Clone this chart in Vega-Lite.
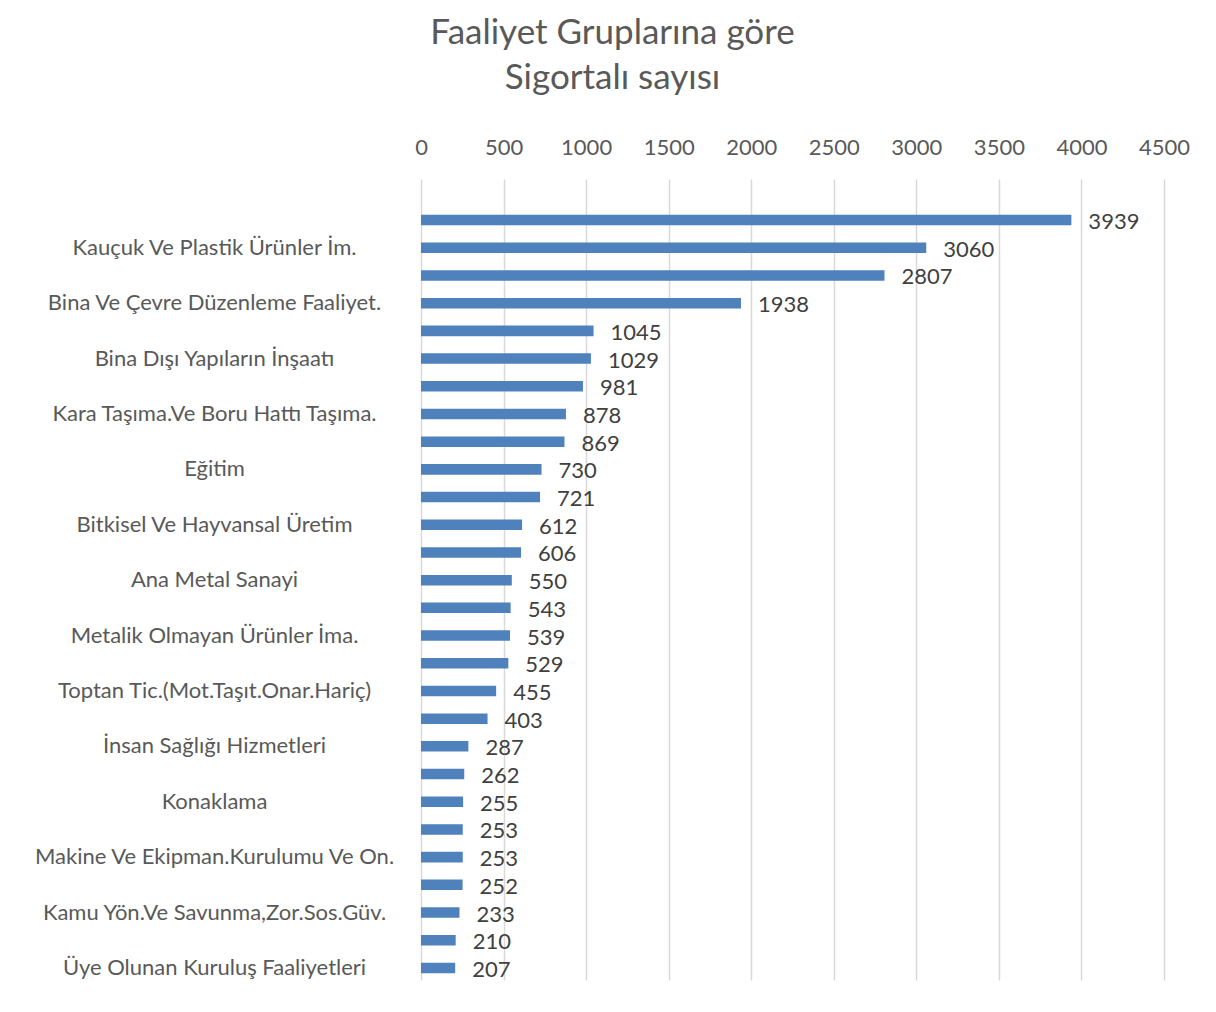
{
  "$schema": "https://vega.github.io/schema/vega-lite/v6.json",
  "autosize": "none",
  "padding": {"left": 421, "top": 179, "right": 52, "bottom": 32},
  "width": 743,
  "height": 801,
  "background": "white",
  "title": {
    "text": ["Faaliyet Gruplarına göre", "Sigortalı sayısı"],
    "font": "Lato",
    "fontSize": 35,
    "fontWeight": "normal",
    "color": "#595959",
    "anchor": "middle",
    "dx": -180,
    "lineHeight": 45,
    "offset": 40
  },
  "data": {
    "values": [
      {"sira": 1, "grup": "(etiketsiz 1)", "sayi": 3939},
      {"sira": 2, "grup": "Kauçuk Ve Plastik Ürünler İm.", "sayi": 3060},
      {"sira": 3, "grup": "(etiketsiz 3)", "sayi": 2807},
      {"sira": 4, "grup": "Bina Ve Çevre Düzenleme Faaliyet.", "sayi": 1938},
      {"sira": 5, "grup": "(etiketsiz 5)", "sayi": 1045},
      {"sira": 6, "grup": "Bina Dışı Yapıların İnşaatı", "sayi": 1029},
      {"sira": 7, "grup": "(etiketsiz 7)", "sayi": 981},
      {"sira": 8, "grup": "Kara Taşıma.Ve Boru Hattı Taşıma.", "sayi": 878},
      {"sira": 9, "grup": "(etiketsiz 9)", "sayi": 869},
      {"sira": 10, "grup": "Eğitim", "sayi": 730},
      {"sira": 11, "grup": "(etiketsiz 11)", "sayi": 721},
      {"sira": 12, "grup": "Bitkisel Ve Hayvansal Üretim", "sayi": 612},
      {"sira": 13, "grup": "(etiketsiz 13)", "sayi": 606},
      {"sira": 14, "grup": "Ana Metal Sanayi", "sayi": 550},
      {"sira": 15, "grup": "(etiketsiz 15)", "sayi": 543},
      {"sira": 16, "grup": "Metalik Olmayan Ürünler İma.", "sayi": 539},
      {"sira": 17, "grup": "(etiketsiz 17)", "sayi": 529},
      {"sira": 18, "grup": "Toptan Tic.(Mot.Taşıt.Onar.Hariç)", "sayi": 455},
      {"sira": 19, "grup": "(etiketsiz 19)", "sayi": 403},
      {"sira": 20, "grup": "İnsan Sağlığı Hizmetleri", "sayi": 287},
      {"sira": 21, "grup": "(etiketsiz 21)", "sayi": 262},
      {"sira": 22, "grup": "Konaklama", "sayi": 255},
      {"sira": 23, "grup": "(etiketsiz 23)", "sayi": 253},
      {"sira": 24, "grup": "Makine Ve Ekipman.Kurulumu Ve On.", "sayi": 253},
      {"sira": 25, "grup": "(etiketsiz 25)", "sayi": 252},
      {"sira": 26, "grup": "Kamu Yön.Ve Savunma,Zor.Sos.Güv.", "sayi": 233},
      {"sira": 27, "grup": "(etiketsiz 27)", "sayi": 210},
      {"sira": 28, "grup": "Üye Olunan Kuruluş Faaliyetleri", "sayi": 207}
    ]
  },
  "encoding": {
    "y": {
      "field": "grup",
      "type": "nominal",
      "sort": {"field": "sira", "order": "ascending"},
      "scale": {"paddingInner": 0.62, "paddingOuter": 0.77, "align": 0.84},
      "axis": {
        "title": null,
        "domain": false,
        "ticks": false,
        "labelAlign": "center",
        "labelPadding": 207,
        "labelFont": "Lato",
        "labelFontSize": 22,
        "labelColor": "#595959",
        "labelLimit": 420,
        "labelExpr": "indexof(datum.value, '(etiketsiz') === 0 ? '' : datum.value"
      }
    },
    "x": {
      "field": "sayi",
      "type": "quantitative",
      "scale": {"domain": [0, 4500], "nice": false},
      "axis": {
        "orient": "top",
        "title": null,
        "values": [0, 500, 1000, 1500, 2000, 2500, 3000, 3500, 4000, 4500],
        "format": "d",
        "domain": false,
        "ticks": false,
        "grid": true,
        "gridColor": "#d9d9d9",
        "gridWidth": 1.5,
        "labelFont": "Lato",
        "labelFontSize": 22,
        "labelColor": "#595959",
        "labelPadding": 20,
        "labelFlush": false
      }
    }
  },
  "layer": [
    {"mark": {"type": "bar", "color": "#4f81bd"}},
    {
      "mark": {"type": "text", "align": "left", "baseline": "middle", "dx": 17, "dy": 2, "font": "Lato", "fontSize": 22, "color": "#404040"},
      "encoding": {"text": {"field": "sayi", "type": "quantitative", "format": "d"}}
    }
  ],
  "config": {"view": {"stroke": null}}
}
